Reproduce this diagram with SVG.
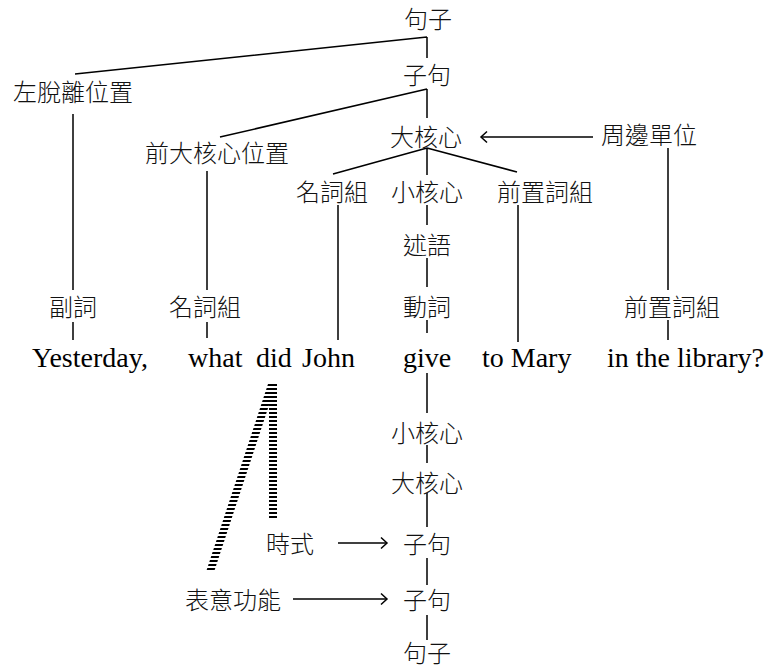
<svg xmlns="http://www.w3.org/2000/svg" width="765" height="667" viewBox="0 0 765 667">
<style>
.c{font-family:"Noto Sans CJK TC","Noto Sans CJK SC",sans-serif;font-size:24px;fill:#111;text-anchor:middle;dominant-baseline:central;font-weight:300}
.e{font-family:"Liberation Serif","Times New Roman",serif;font-size:28px;fill:#000}
.l{stroke:#000;stroke-width:1.5;fill:none}
</style>
<defs>
<marker id="ah" markerUnits="userSpaceOnUse" markerWidth="14" markerHeight="14" refX="0" refY="0" viewBox="-8 -7 10 14" orient="auto" overflow="visible">
<path d="M -6 -5.5 L 0 0 L -6 5.5" fill="none" stroke="#000" stroke-width="1.5"/>
</marker>
<pattern id="hatch" patternUnits="userSpaceOnUse" width="8" height="4">
<rect x="0" y="0" width="8" height="2" fill="#000"/>
</pattern>
</defs>
<rect width="765" height="667" fill="#fff"/>
<g id="connectors">
<path class="l" d="M427 37V58M427 37L75 74M427 89V118M427 89L220 137M427 148V175M427 148L333 174M427 148L517 172"/>
<path class="l" d="M593 137H481" marker-end="url(#ah)"/>
<path class="l" d="M668 148V290M668 320V340"/>
<path class="l" d="M73 114V290M73 322V340M207 171V290M207 322V338M338 205V340"/>
<path class="l" d="M427 205V225M427 258V287M427 320V333M518 205V342"/>
<path class="l" d="M427 373V413M427 445V463M427 493V527M427 558V585M427 615V640"/>
<path class="l" d="M338 543H387" marker-end="url(#ah)"/>
<path class="l" d="M293 599H387" marker-end="url(#ah)"/>
<rect x="269" y="384" width="8" height="134" fill="url(#hatch)"/>
<polygon points="268,384 276,384 214,572 206,572" fill="url(#hatch)"/>
</g>
<g id="n-juzi-top"><text class="c" x="428" y="17">句子</text></g>
<g id="n-zuotuoli"><text class="c" x="73" y="90">左脫離位置</text></g>
<g id="n-zijv-top"><text class="c" x="427" y="73">子句</text></g>
<g id="n-dahexin-top"><text class="c" x="426" y="135">大核心</text></g>
<g id="n-qiandahexin"><text class="c" x="217" y="151">前大核心位置</text></g>
<g id="n-zhoubian"><text class="c" x="649" y="133">周邊單位</text></g>
<g id="n-mingcizu-mid"><text class="c" x="332" y="190">名詞組</text></g>
<g id="n-xiaohexin-top"><text class="c" x="427" y="190">小核心</text></g>
<g id="n-qianzhicizu-mid"><text class="c" x="545" y="190">前置詞組</text></g>
<g id="n-shuyu"><text class="c" x="427" y="243">述語</text></g>
<g id="n-fuci"><text class="c" x="73" y="305">副詞</text></g>
<g id="n-mingcizu-left"><text class="c" x="205" y="305">名詞組</text></g>
<g id="n-dongci"><text class="c" x="427" y="305">動詞</text></g>
<g id="n-qianzhicizu-right"><text class="c" x="672" y="305">前置詞組</text></g>
<g id="n-words">
<text class="e" x="32" y="367">Yesterday,</text>
<text class="e" x="188" y="367">what</text>
<text class="e" x="256" y="367">did</text>
<text class="e" x="302" y="367">John</text>
<text class="e" x="403" y="367">give</text>
<text class="e" x="482" y="367">to Mary</text>
<text class="e" x="607" y="367">in the library?</text>
</g>
<g id="n-xiaohexin-bot"><text class="c" x="427" y="431">小核心</text></g>
<g id="n-dahexin-bot"><text class="c" x="427" y="481">大核心</text></g>
<g id="n-shishi"><text class="c" x="290" y="542">時式</text></g>
<g id="n-zijv-1"><text class="c" x="427" y="542">子句</text></g>
<g id="n-biaoyi"><text class="c" x="233" y="598">表意功能</text></g>
<g id="n-zijv-2"><text class="c" x="427" y="598">子句</text></g>
<g id="n-juzi-bot"><text class="c" x="427" y="651">句子</text></g>
</svg>
